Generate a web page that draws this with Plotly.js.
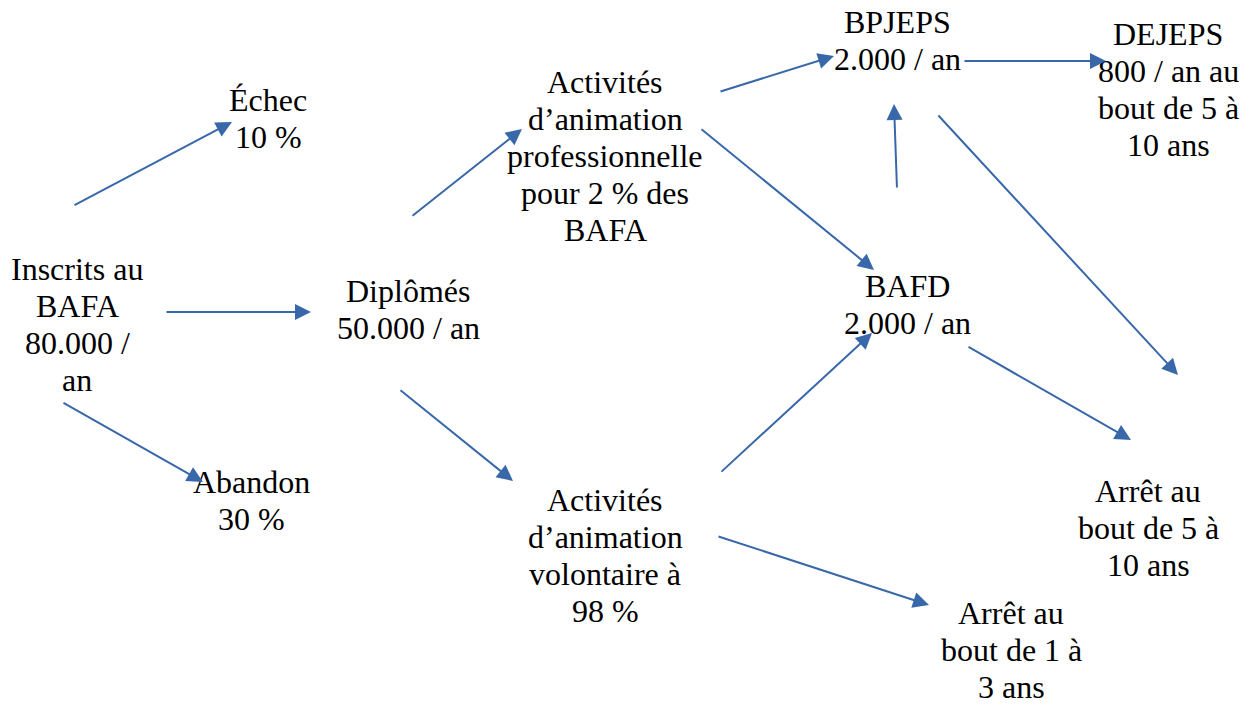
<!DOCTYPE html>
<html>
<head>
<meta charset="utf-8">
<script src="https://cdn.plot.ly/plotly-3.0.1.min.js"></script>
<style>html,body{margin:0;padding:0;background:#fff;}#chart{width:1254px;height:704px;}</style>
</head>
<body>
<div id="chart"></div>
<script>
// ---- Data: node labels and flows between them ----
const nodeLabels = [
  "Inscrits au<br>BAFA<br>80.000 /<br>an",
  "Échec<br>10 %",
  "Abandon<br>30 %",
  "Diplômés<br>50.000 / an",
  "Activités<br>d’animation<br>professionnelle<br>pour 2 % des<br>BAFA",
  "Activités<br>d’animation<br>volontaire à<br>98 %",
  "BPJEPS<br>2.000 / an",
  "DEJEPS<br>800 / an au<br>bout de 5 à<br>10 ans",
  "BAFD<br>2.000 / an",
  "Arrêt au<br>bout de 5 à<br>10 ans",
  "Arrêt au<br>bout de 1 à<br>3 ans"
];
const flowSource = [0, 0, 0, 3, 3, 4, 4, 8, 6, 6, 5, 8, 5];
const flowTarget = [1, 3, 2, 4, 5, 6, 8, 6, 7, 9, 8, 9, 10];

// ---- Layout geometry (pixel space of the page) ----
const nodePos = [
  [77, 324], [268, 118], [251, 500], [408, 309], [605, 156],
  [605, 555], [897, 40], [1168, 89], [907, 304], [1148, 528], [1011, 650]
];
const lineGap = 37;
// arrow tail / head points, one per flow
const arrowGeom = [
  [73, 206, 232, 122],
  [165, 312, 311, 312],
  [62, 402, 203, 482],
  [411, 217, 522, 129],
  [399, 389, 513, 481],
  [719, 92, 834, 56],
  [700, 128, 874, 270],
  [897, 189, 894, 104],
  [963, 61, 1106, 61],
  [937, 114, 1178, 375],
  [720, 473, 872, 333],
  [967, 346, 1131, 440],
  [717, 536, 929, 605]
];

const fontFam = '"Liberation Serif", "Times New Roman", Times, serif';
const annotations = [];
nodeLabels.forEach((t, i) => {
  const lines = t.split('<br>');
  const n = lines.length;
  lines.forEach((ln, j) => {
    annotations.push({
      x: nodePos[i][0], y: nodePos[i][1] + (j - (n - 1) / 2) * lineGap, xref: 'x', yref: 'y',
      text: ln, showarrow: false, xanchor: 'center', yanchor: 'middle', align: 'center',
      font: {family: fontFam, size: 32, color: '#000'}
    });
  });
});
flowSource.forEach((s, k) => {
  const g = arrowGeom[k];
  annotations.push({
    x: g[2], y: g[3], ax: g[0], ay: g[1], xref: 'x', yref: 'y', axref: 'x', ayref: 'y',
    text: '', showarrow: true, arrowhead: 2, arrowsize: 1.6, arrowwidth: 2,
    arrowcolor: '#3868aa', standoff: 0, startstandoff: 0
  });
});

const layout = {
  width: 1254, height: 704,
  margin: {l: 0, r: 0, t: 0, b: 0},
  paper_bgcolor: '#fff', plot_bgcolor: '#fff',
  font: {family: fontFam},
  xaxis: {range: [0, 1254], visible: false, fixedrange: true},
  yaxis: {range: [704, 0], visible: false, fixedrange: true},
  showlegend: false,
  annotations: annotations
};
Plotly.newPlot('chart', [{x: [], y: [], type: 'scatter', mode: 'markers', hoverinfo: 'skip'}], layout, {staticPlot: true, displayModeBar: false});
</script>
</body>
</html>
